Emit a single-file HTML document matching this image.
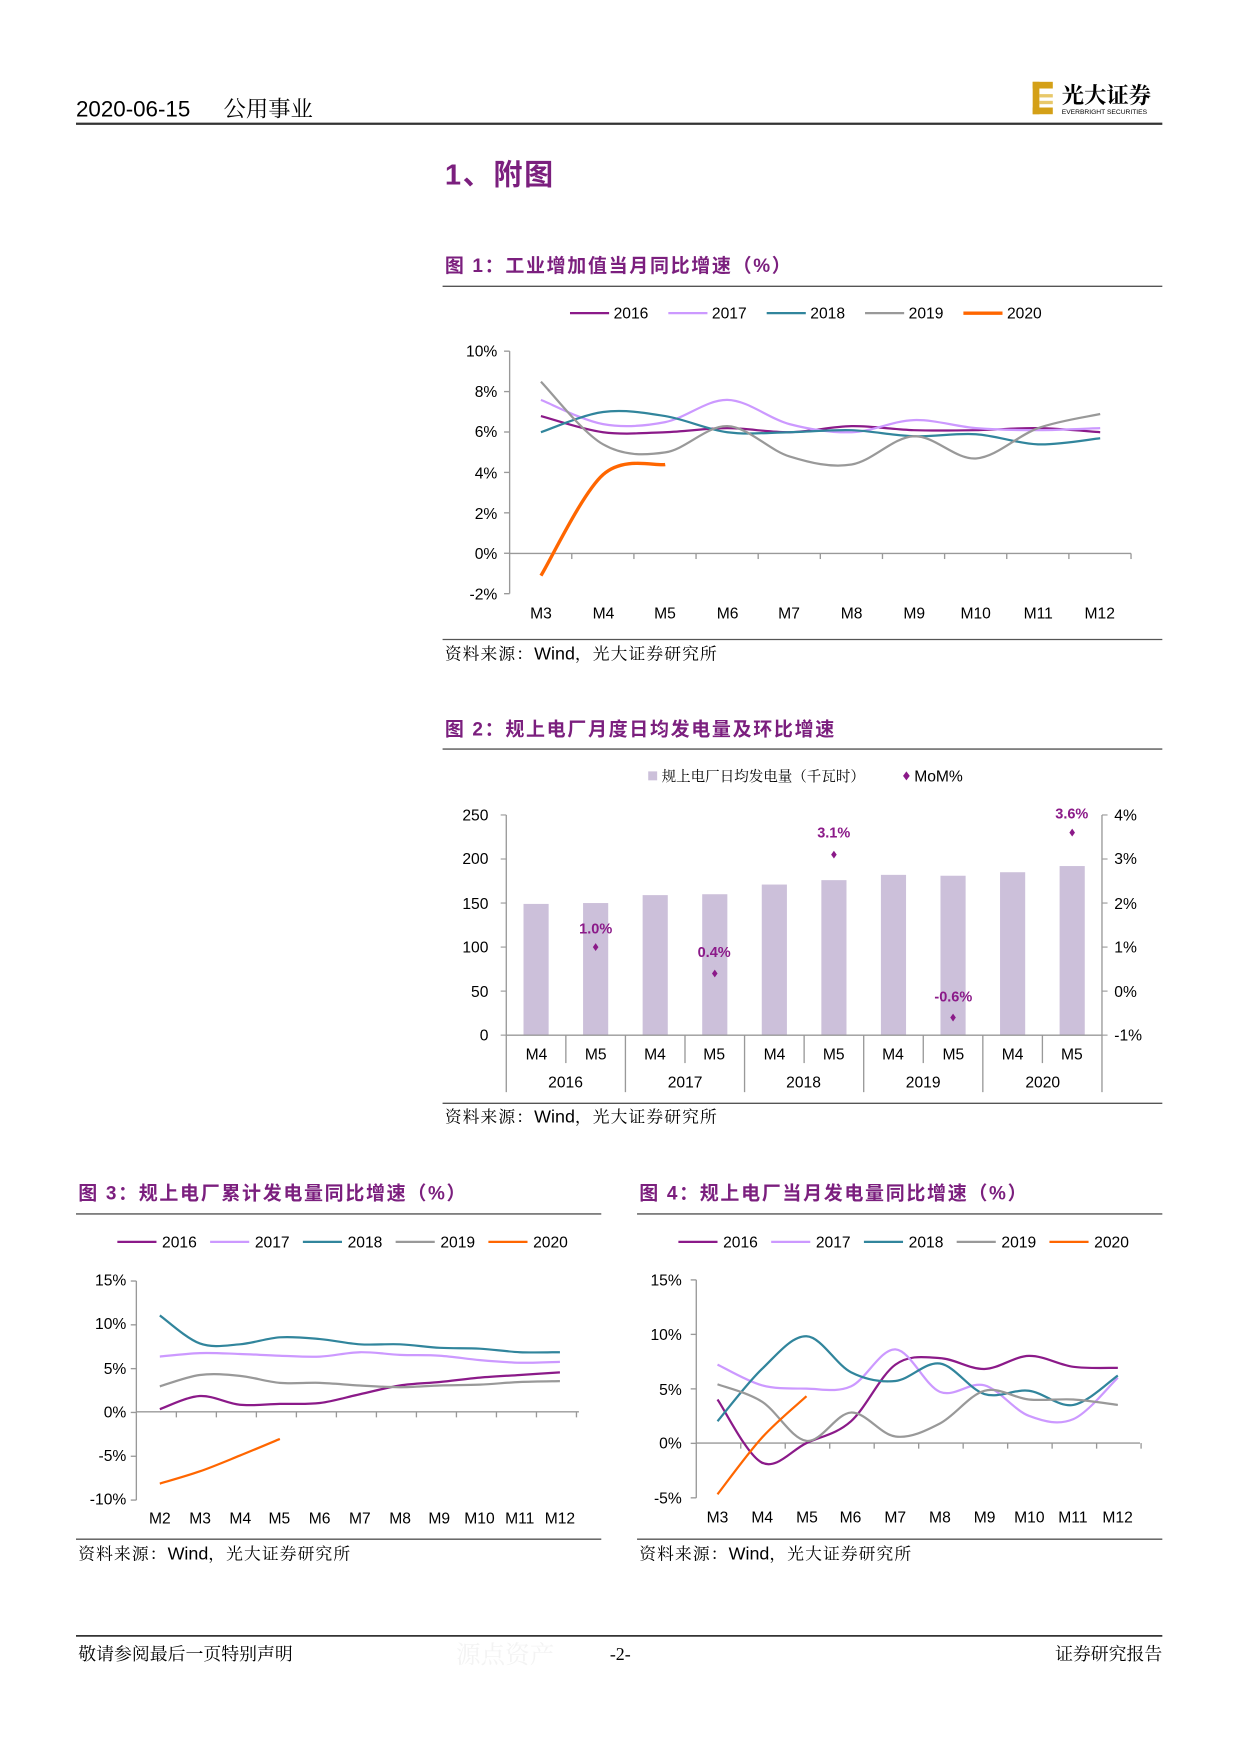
<!DOCTYPE html>
<html><head><meta charset="utf-8">
<style>
html,body{margin:0;padding:0;background:#fff;}
svg{display:block;}
text{font-family:"Liberation Sans","Noto Sans CJK SC",sans-serif;}
.cn{font-family:"Liberation Serif","Noto Serif CJK SC",serif;}
.t{font-family:"Liberation Sans","Noto Sans CJK SC",sans-serif;font-weight:bold;fill:#7B1F7E;letter-spacing:1.5px;}
.ax{font-size:14px;fill:#000;}
.lg{font-size:14px;fill:#000;}
</style></head>
<body>
<svg id="s" width="1240" height="1754" viewBox="0 0 1109.5 1569" xmlns="http://www.w3.org/2000/svg">
<g id="g">
<text x="68" y="104" font-size="20" fill="#000">2020-06-15</text>
<text x="200" y="104" font-size="20" fill="#000" class="cn">公用事业</text>
<line x1="68" y1="110.5" x2="1040" y2="110.5" stroke="#333" stroke-width="2"/>
<rect x="924" y="73" width="6" height="29" fill="#D4A017"/>
<rect x="924" y="73" width="18" height="6" fill="#D4A017"/>
<rect x="930" y="84" width="12" height="3" fill="#E8C86A"/>
<rect x="930" y="90" width="12" height="3" fill="#E8C86A"/>
<rect x="924" y="96" width="18" height="6" fill="#D4A017"/>
<text x="950" y="92" font-size="20" font-weight="bold" fill="#000" class="cn">光大证券</text>
<text x="950" y="102" font-size="6" fill="#000">EVERBRIGHT SECURITIES</text>

<text x="398" y="165" font-size="26" class="t">1、附图</text>

<text x="398" y="243" font-size="17" class="t">图 1：工业增加值当月同比增速（%）</text>
<line x1="396" y1="256" x2="1040" y2="256" stroke="#555" stroke-width="1.2"/>
<g class="lg">
<line x1="510" y1="280" x2="545" y2="280" stroke="#8B1A89" stroke-width="2"/><text x="549" y="285">2016</text>
<line x1="598" y1="280" x2="633" y2="280" stroke="#CC99FF" stroke-width="2"/><text x="637" y="285">2017</text>
<line x1="686" y1="280" x2="721" y2="280" stroke="#31859C" stroke-width="2"/><text x="725" y="285">2018</text>
<line x1="774" y1="280" x2="809" y2="280" stroke="#999" stroke-width="2"/><text x="813" y="285">2019</text>
<line x1="862" y1="280" x2="897" y2="280" stroke="#FF6600" stroke-width="3"/><text x="901" y="285">2020</text>
</g>
<g class="ax" text-anchor="end">
<text x="445" y="319">10%</text><text x="445" y="355">8%</text><text x="445" y="391">6%</text>
<text x="445" y="428">4%</text><text x="445" y="464">2%</text><text x="445" y="500">0%</text><text x="445" y="536">-2%</text>
</g>
<g class="ax" text-anchor="middle">
<text x="484" y="553">M3</text><text x="540" y="553">M4</text><text x="595" y="553">M5</text><text x="651" y="553">M6</text>
<text x="706" y="553">M7</text><text x="762" y="553">M8</text><text x="818" y="553">M9</text><text x="873" y="553">M10</text>
<text x="929" y="553">M11</text><text x="984" y="553">M12</text>
</g>
<g id="c1"></g>
<line x1="396" y1="572" x2="1040" y2="572" stroke="#555" stroke-width="1.2"/>
<text x="398" y="590" font-size="15" class="cn" letter-spacing="1">资料来源：<tspan font-family="Liberation Sans" letter-spacing="0" font-size="16">Wind</tspan>，光大证券研究所</text>

<text x="398" y="658" font-size="17" class="t">图 2：规上电厂月度日均发电量及环比增速</text>
<line x1="396" y1="670" x2="1040" y2="670" stroke="#555" stroke-width="1.2"/>
<rect x="580" y="690" width="8" height="8" fill="#CCC0DA"/>
<text x="592" y="699" font-size="13" class="cn">规上电厂日均发电量（千瓦时）</text>
<path d="M811 690 L814 694 L811 698 L808 694Z" fill="#8B1A89"/>
<text x="818" y="699" font-size="14">MoM%</text>
<g class="ax" text-anchor="end">
<text x="437" y="734">250</text><text x="437" y="773">200</text><text x="437" y="813">150</text>
<text x="437" y="852">100</text><text x="437" y="892">50</text><text x="437" y="931">0</text>
</g>
<g class="ax">
<text x="997" y="734">4%</text><text x="997" y="773">3%</text><text x="997" y="813">2%</text>
<text x="997" y="852">1%</text><text x="997" y="892">0%</text><text x="997" y="931">-1%</text>
</g>
<g class="ax" text-anchor="middle">
<text x="480" y="948">M4</text><text x="533" y="948">M5</text><text x="586" y="948">M4</text><text x="639" y="948">M5</text>
<text x="693" y="948">M4</text><text x="746" y="948">M5</text><text x="799" y="948">M4</text><text x="853" y="948">M5</text>
<text x="906" y="948">M4</text><text x="959" y="948">M5</text>
<text x="506" y="973">2016</text><text x="613" y="973">2017</text><text x="719" y="973">2018</text><text x="826" y="973">2019</text><text x="933" y="973">2020</text>
</g>
<g id="c2"></g>
<g font-size="13" font-weight="bold" fill="#8B1A89" text-anchor="middle">
<text x="533" y="835">1.0%</text><text x="639" y="856">0.4%</text><text x="746" y="749">3.1%</text>
<text x="853" y="896">-0.6%</text><text x="959" y="732">3.6%</text>
</g>
<line x1="396" y1="987" x2="1040" y2="987" stroke="#555" stroke-width="1.2"/>
<text x="398" y="1004" font-size="15" class="cn" letter-spacing="1">资料来源：<tspan font-family="Liberation Sans" letter-spacing="0" font-size="16">Wind</tspan>，光大证券研究所</text>

<text x="70" y="1073" font-size="17" class="t">图 3：规上电厂累计发电量同比增速（%）</text>
<line x1="68" y1="1086" x2="538" y2="1086" stroke="#555" stroke-width="1.2"/>
<g class="lg">
<line x1="105" y1="1111" x2="140" y2="1111" stroke="#8B1A89" stroke-width="2"/><text x="145" y="1116">2016</text>
<line x1="188" y1="1111" x2="223" y2="1111" stroke="#CC99FF" stroke-width="2"/><text x="228" y="1116">2017</text>
<line x1="271" y1="1111" x2="306" y2="1111" stroke="#31859C" stroke-width="2"/><text x="311" y="1116">2018</text>
<line x1="354" y1="1111" x2="389" y2="1111" stroke="#999" stroke-width="2"/><text x="394" y="1116">2019</text>
<line x1="437" y1="1111" x2="472" y2="1111" stroke="#FF6600" stroke-width="2"/><text x="477" y="1116">2020</text>
</g>
<g class="ax" text-anchor="end">
<text x="113" y="1150">15%</text><text x="113" y="1189">10%</text><text x="113" y="1229">5%</text>
<text x="113" y="1268">0%</text><text x="113" y="1307">-5%</text><text x="113" y="1346">-10%</text>
</g>
<g class="ax" text-anchor="middle">
<text x="143" y="1363">M2</text><text x="179" y="1363">M3</text><text x="215" y="1363">M4</text><text x="250" y="1363">M5</text>
<text x="286" y="1363">M6</text><text x="322" y="1363">M7</text><text x="358" y="1363">M8</text><text x="393" y="1363">M9</text>
<text x="429" y="1363">M10</text><text x="465" y="1363">M11</text><text x="501" y="1363">M12</text>
</g>
<g id="c3"></g>
<line x1="68" y1="1377" x2="538" y2="1377" stroke="#555" stroke-width="1.2"/>
<text x="70" y="1395" font-size="15" class="cn" letter-spacing="1">资料来源：<tspan font-family="Liberation Sans" letter-spacing="0" font-size="16">Wind</tspan>，光大证券研究所</text>

<text x="572" y="1073" font-size="17" class="t">图 4：规上电厂当月发电量同比增速（%）</text>
<line x1="570" y1="1086" x2="1040" y2="1086" stroke="#555" stroke-width="1.2"/>
<g class="lg">
<line x1="607" y1="1111" x2="642" y2="1111" stroke="#8B1A89" stroke-width="2"/><text x="647" y="1116">2016</text>
<line x1="690" y1="1111" x2="725" y2="1111" stroke="#CC99FF" stroke-width="2"/><text x="730" y="1116">2017</text>
<line x1="773" y1="1111" x2="808" y2="1111" stroke="#31859C" stroke-width="2"/><text x="813" y="1116">2018</text>
<line x1="856" y1="1111" x2="891" y2="1111" stroke="#999" stroke-width="2"/><text x="896" y="1116">2019</text>
<line x1="939" y1="1111" x2="974" y2="1111" stroke="#FF6600" stroke-width="2"/><text x="979" y="1116">2020</text>
</g>
<g class="ax" text-anchor="end">
<text x="610" y="1150">15%</text><text x="610" y="1199">10%</text><text x="610" y="1248">5%</text>
<text x="610" y="1296">0%</text><text x="610" y="1345">-5%</text>
</g>
<g class="ax" text-anchor="middle">
<text x="642" y="1362">M3</text><text x="682" y="1362">M4</text><text x="722" y="1362">M5</text><text x="761" y="1362">M6</text>
<text x="801" y="1362">M7</text><text x="841" y="1362">M8</text><text x="881" y="1362">M9</text><text x="921" y="1362">M10</text>
<text x="960" y="1362">M11</text><text x="1000" y="1362">M12</text>
</g>
<g id="c4"></g>
<line x1="570" y1="1377" x2="1040" y2="1377" stroke="#555" stroke-width="1.2"/>
<text x="572" y="1395" font-size="15" class="cn" letter-spacing="1">资料来源：<tspan font-family="Liberation Sans" letter-spacing="0" font-size="16">Wind</tspan>，光大证券研究所</text>

<line x1="68" y1="1463.5" x2="1040" y2="1463.5" stroke="#333" stroke-width="1.5"/>
<text x="70" y="1485" font-size="16" class="cn">敬请参阅最后一页特别声明</text>
<text x="408" y="1488" font-size="22" fill="#f3f3f3" class="cn">源点资产</text>
<text x="555" y="1485" font-size="16" text-anchor="middle" class="cn">-2-</text>
<text x="1040" y="1485" font-size="16" text-anchor="end" class="cn">证券研究报告</text>
</g>
</svg>
<script>
var NS="http://www.w3.org/2000/svg";
function el(p,tag,a){var e=document.createElementNS(NS,tag);for(var k in a)e.setAttribute(k,a[k]);p.appendChild(e);return e;}
function smooth(pts){var d="M"+pts[0][0]+" "+pts[0][1];for(var i=0;i<pts.length-1;i++){var p0=pts[i-1]||pts[i],p1=pts[i],p2=pts[i+1],p3=pts[i+2]||p2;var t=1/6;
d+=" C"+(p1[0]+(p2[0]-p0[0])*t)+" "+(p1[1]+(p2[1]-p0[1])*t)+" "+(p2[0]-(p3[0]-p1[0])*t)+" "+(p2[1]-(p3[1]-p1[1])*t)+" "+p2[0]+" "+p2[1];}return d;}
var cols=["#8B1A89","#CC99FF","#31859C","#999999","#FF6600"];
function lineChart(id,o){var g=document.getElementById(id);
 el(g,"line",{x1:o.ax,y1:o.top,x2:o.ax,y2:o.bot,stroke:"#999","stroke-width":1.2});
 for(var i=0;i<o.nt;i++){var y=o.top+(o.bot-o.top)*i/(o.nt-1);el(g,"line",{x1:o.ax-5,y1:y,x2:o.ax,y2:y,stroke:"#999","stroke-width":1.2});}
 el(g,"line",{x1:o.ax,y1:o.y0,x2:o.xe,y2:o.y0,stroke:"#999","stroke-width":1.2});
 for(var k=1;k*o.dx+o.ax<=o.xe+1;k++){var x=o.ax+k*o.dx;el(g,"line",{x1:x,y1:o.y0,x2:x,y2:o.y0+5,stroke:"#999","stroke-width":1.2});}
 o.data.forEach(function(s,j){var pts=s.map(function(v,i){return [o.x0+i*o.dx,o.y0-v*o.sc];});
  el(g,"path",{d:smooth(pts),fill:"none",stroke:cols[j],"stroke-width":(j==4&&o.thick)?3:2});});
}
lineChart("c1",{ax:456,top:314,bot:531,nt:7,y0:495,xe:1012,dx:55.6,x0:484,sc:18.08,thick:true,data:[
[6.8,6.0,6.0,6.2,6.0,6.3,6.1,6.1,6.2,6.0],
[7.6,6.4,6.5,7.6,6.4,6.0,6.6,6.2,6.1,6.2],
[6.0,7.0,6.8,6.0,6.0,6.1,5.8,5.9,5.4,5.7],
[8.5,5.4,5.0,6.3,4.8,4.4,5.8,4.7,6.2,6.9],
[-1.1,3.9,4.4]]});
lineChart("c3",{ax:122,top:1146,bot:1342,nt:6,y0:1263,xe:518,dx:35.8,x0:143,sc:7.84,data:[
[0.3,1.8,0.8,0.9,1.0,2.0,3.0,3.4,3.9,4.2,4.5],
[6.3,6.7,6.6,6.4,6.3,6.8,6.5,6.4,5.9,5.6,5.7],
[11.0,7.8,7.7,8.5,8.3,7.7,7.7,7.3,7.2,6.8,6.8],
[2.9,4.2,4.1,3.3,3.3,3.0,2.8,3.0,3.1,3.4,3.5],
[-8.2,-6.8,-5.0,-3.1]]});
lineChart("c4",{ax:623,top:1145,bot:1340,nt:5,y0:1291,xe:1020,dx:39.8,x0:642,sc:9.75,data:[
[4.0,-1.8,0.0,2.0,7.2,7.8,6.8,8.0,7.0,6.9],
[7.2,5.3,5.0,5.2,8.6,4.7,5.3,2.5,2.2,6.0],
[2.0,6.8,9.8,6.5,5.7,7.3,4.5,4.8,3.5,6.2],
[5.4,3.8,0.2,2.8,0.6,1.8,4.8,4.0,4.0,3.5],
[-4.7,0.5,4.3]]});
(function(){var g=document.getElementById("c2");var L=453,R=986,w=53.3;
 var v=[149,150,159,160,171,176,182,181,185,192];
 v.forEach(function(b,k){var c=L+w*k+w/2;el(g,"rect",{x:c-11.25,y:926-b*0.788,width:22.5,height:b*0.788,fill:"#CCC0DA"});});
 el(g,"line",{x1:L,y1:729,x2:L,y2:926,stroke:"#999","stroke-width":1.2});
 el(g,"line",{x1:R,y1:729,x2:R,y2:926,stroke:"#999","stroke-width":1.2});
 for(var i=0;i<6;i++){var y=729+i*39.4;el(g,"line",{x1:L-5,y1:y,x2:L,y2:y,stroke:"#999"});el(g,"line",{x1:R,y1:y,x2:R+5,y2:y,stroke:"#999"});}
 el(g,"line",{x1:L,y1:926,x2:R,y2:926,stroke:"#999","stroke-width":1.2});
 for(var k=0;k<=10;k++){var x=L+k*w;el(g,"line",{x1:x,y1:926,x2:x,y2:(k%2==0)?977:951,stroke:"#999","stroke-width":1.2});}
 var m=[1.0,0.4,3.1,-0.6,3.6];
 m.forEach(function(p,j){var c=L+w*(2*j+1)+w/2,y=926-(p+1)*39.4;el(g,"path",{d:"M"+c+" "+(y-3.5)+" L"+(c+2.5)+" "+y+" L"+c+" "+(y+3.5)+" L"+(c-2.5)+" "+y+"Z",fill:"#8B1A89"});});
})();
</script>
</body></html>
